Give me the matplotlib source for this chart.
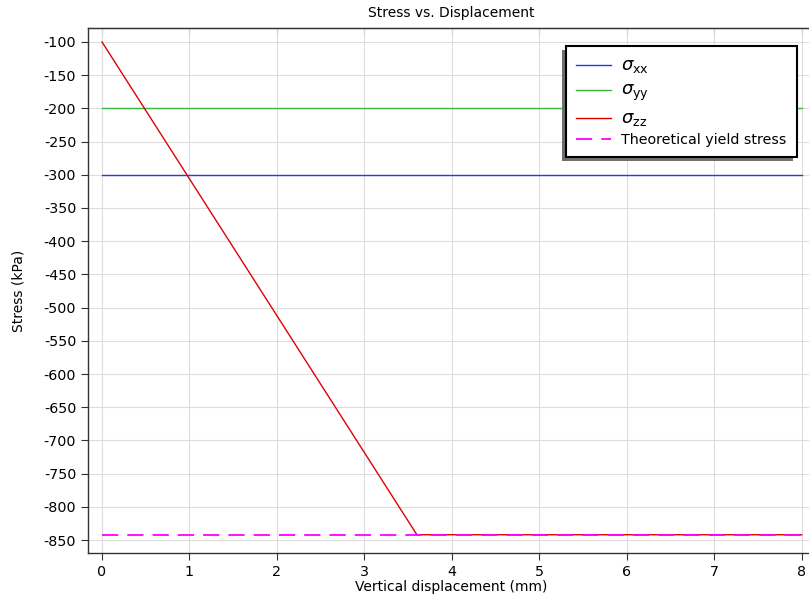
import numpy as np
import matplotlib
matplotlib.use("Agg")
import matplotlib.pyplot as plt
from matplotlib import patches
from matplotlib.transforms import IdentityTransform

plt.rcParams['axes.unicode_minus'] = False
plt.rcParams['mathtext.fontset'] = 'dejavusans'

# data
disp_const = [0, 8]
sxx = [-300, -300]
syy = [-200, -200]
disp_zz = [0, 3.6, 8]
szz = [-100, -842, -842]
yield_stress = [-842, -842]

xticks = list(range(0, 9))
yticks = list(range(-850, -99, 50))

fig = plt.figure(figsize=(8.09, 5.95), dpi=100)
# axes runs past the right edge of the picture, like the reference
ax = fig.add_axes([88 / 809, 1 - 553 / 595, (814 - 88) / 809, (553 - 28) / 595])

ax.plot(disp_const, sxx, color="#1f3fe0", lw=1.0, label=r"$\sigma_{\mathregular{xx}}$")
ax.plot(disp_const, syy, color="#3cb83c", lw=1.0, label=r"$\sigma_{\mathregular{yy}}$")
ax.plot(disp_zz, szz, color="#e00000", lw=1.0, label=r"$\sigma_{\mathregular{zz}}$")
ax.plot(disp_const, yield_stress, color="#ff00ff", lw=1.3, ls=(0, (9, 5)),
        label="Theoretical yield stress")

ax.set_xlim(-0.16, 8.14)
ax.set_ylim(-869.5, -79)
ax.set_xticks(xticks)
ax.set_yticks(yticks)
ax.set_yticklabels([str(v) for v in yticks])
ax.grid(True, color="#dddddd", lw=0.8)
ax.set_axisbelow(True)
ax.tick_params(axis="both", labelsize=10.3, direction="out", length=5, color="#333333")
ax.spines["right"].set_visible(False)
for sp in ax.spines.values():
    sp.set_color("#333333")
    sp.set_linewidth(1.0)

# inward ticks along the top
top = ax.secondary_xaxis("top")
top.set_xticks(xticks)
top.tick_params(direction="in", length=5, color="#333333", labeltop=False)
top.spines["top"].set_color("#333333")

ax.set_title("Stress vs. Displacement", fontsize=10, pad=8)
ax.set_xlabel("Vertical displacement (mm)", fontsize=10, labelpad=1)
ax.set_ylabel("Stress (kPa)", fontsize=10, labelpad=13)

leg = ax.legend(loc="upper right", bbox_to_anchor=(0.9862, 0.979), fontsize=10.3,
                fancybox=False, shadow=False,
                framealpha=1, edgecolor="black", borderpad=0.7, handlelength=2.5,
                handletextpad=0.7, labelspacing=0.4)
leg.get_frame().set_linewidth(1.5)
leg.set_zorder(6)
for txt in leg.get_texts()[:3]:
    txt.set_fontsize(13)

# shadow offset down-left, as in the reference
fig.canvas.draw()
bb = leg.get_window_extent()
shadow = patches.Rectangle((bb.x0 - 4, bb.y0 - 4), bb.width, bb.height,
                           transform=IdentityTransform(), facecolor="#6f6f6f",
                           edgecolor="none", zorder=5.5)
ax.add_artist(shadow)

fig.savefig("out.png", dpi=100)
